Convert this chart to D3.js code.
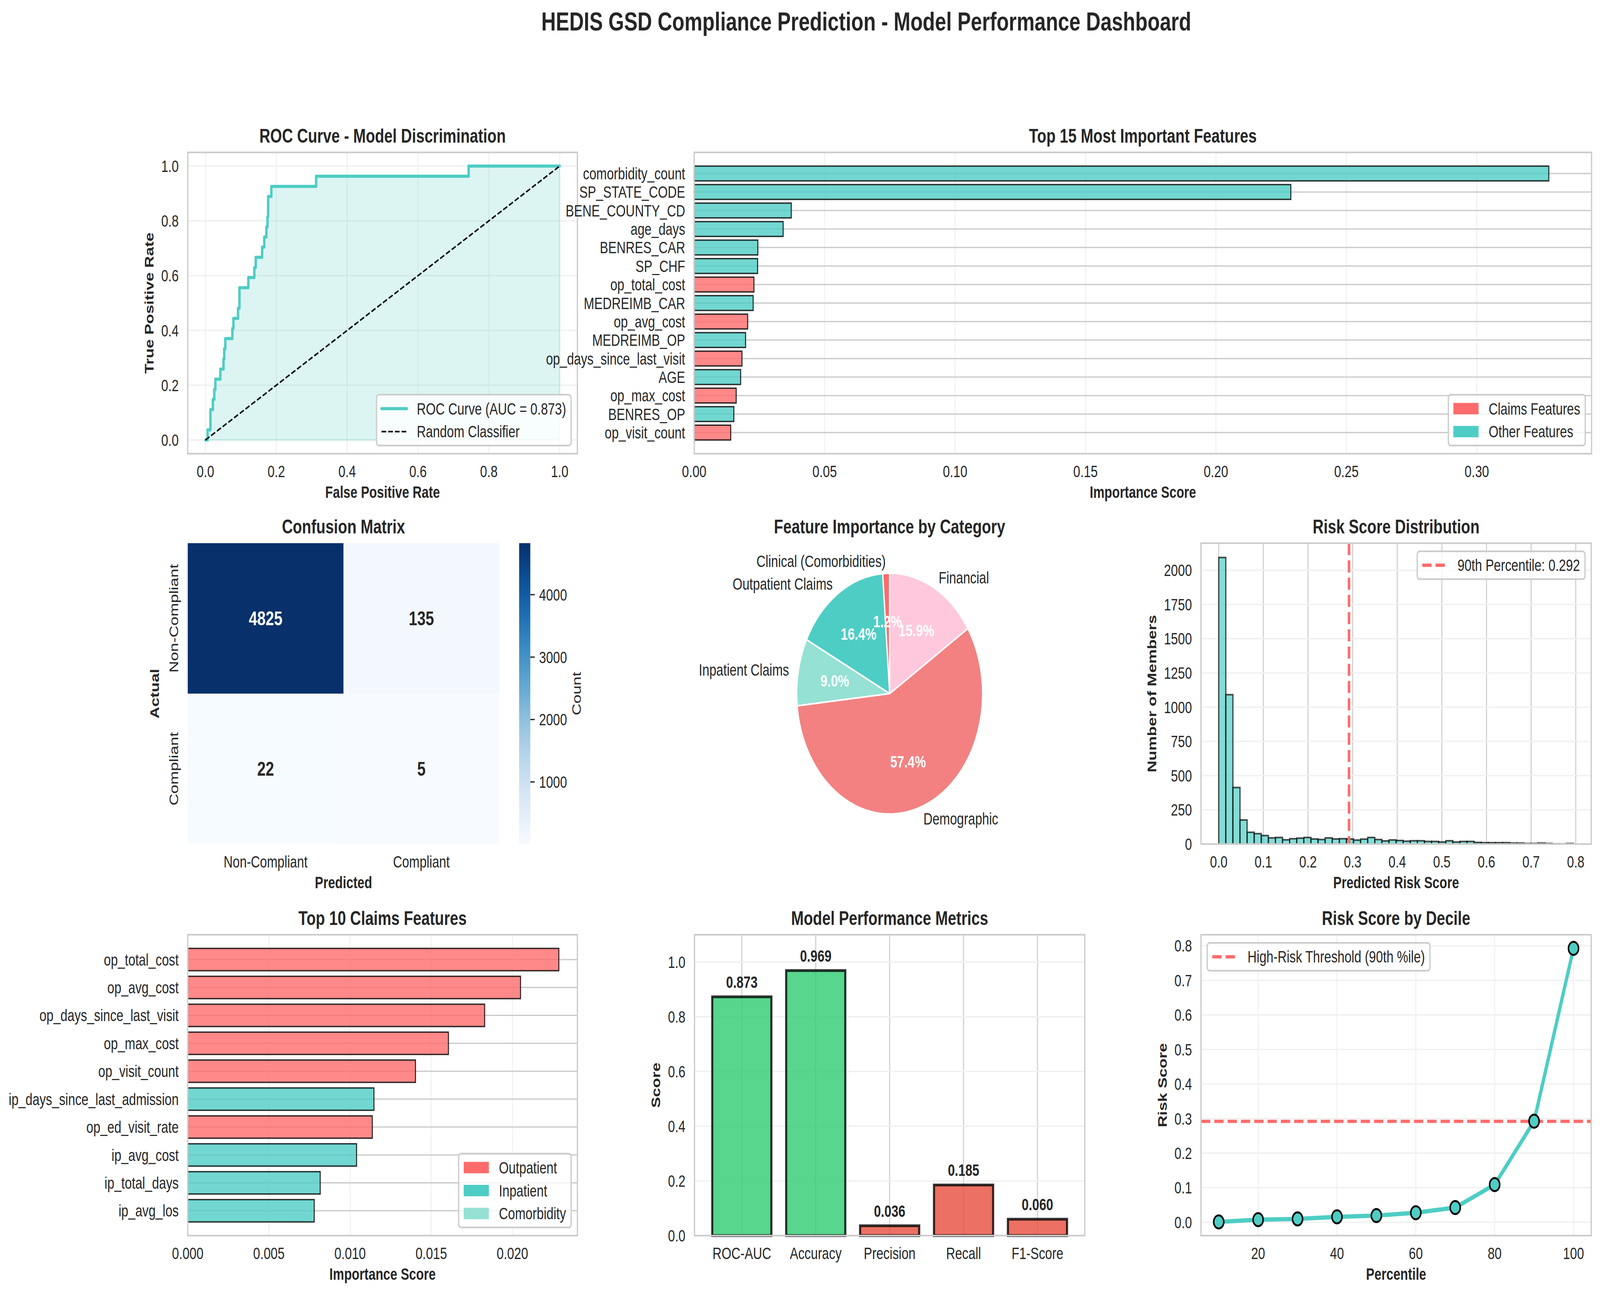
<!DOCTYPE html>
<html>
<head>
<meta charset="utf-8">
<script src="https://cdn.jsdelivr.net/npm/d3@7"></script>
<style>
  html, body { margin: 0; padding: 0; background: #fff; overflow: hidden; width: 100%; height: 100%; }
  #chart { display: block; width: 100vw; height: 100vh; }
  svg text { font-family: "Liberation Sans", Arial, "DejaVu Sans", sans-serif; }
</style>
</head>
<body>
<svg id="chart" viewBox="0 0 5301 3314" preserveAspectRatio="none"></svg>
<script>
// ---------------- DATA ----------------
const mainTitle = "HEDIS GSD Compliance Prediction - Model Performance Dashboard";

// ROC curve corner points
const rocFpr = [0, 0.006, 0.006, 0.014, 0.014, 0.021, 0.021, 0.025, 0.025, 0.028, 0.028, 0.042, 0.042, 0.051, 0.051, 0.053, 0.053, 0.056, 0.056, 0.076, 0.076, 0.079, 0.079, 0.092, 0.092, 0.096, 0.096, 0.121, 0.121, 0.138, 0.138, 0.142, 0.142, 0.160, 0.160, 0.166, 0.166, 0.172, 0.172, 0.175, 0.175, 0.177, 0.177, 0.186, 0.186, 0.3125, 0.3125, 0.743, 0.743, 1.0];
const rocTpr = [0, 0, 0.037, 0.037, 0.111, 0.111, 0.148, 0.148, 0.185, 0.185, 0.222, 0.222, 0.259, 0.259, 0.296, 0.296, 0.333, 0.333, 0.370, 0.370, 0.407, 0.407, 0.444, 0.444, 0.481, 0.481, 0.556, 0.556, 0.593, 0.593, 0.630, 0.630, 0.667, 0.667, 0.704, 0.704, 0.741, 0.741, 0.778, 0.778, 0.815, 0.815, 0.889, 0.889, 0.926, 0.926, 0.963, 0.963, 1.0, 1.0];
const rocAuc = 0.873;

// Top 15 features
const top15Features = ["comorbidity_count", "SP_STATE_CODE", "BENE_COUNTY_CD", "age_days", "BENRES_CAR", "SP_CHF", "op_total_cost", "MEDREIMB_CAR", "op_avg_cost", "MEDREIMB_OP", "op_days_since_last_visit", "AGE", "op_max_cost", "BENRES_OP", "op_visit_count"];
const top15Importance = [0.3276, 0.2287, 0.0372, 0.0341, 0.0244, 0.0243, 0.0229, 0.0226, 0.0205, 0.0197, 0.0183, 0.0178, 0.0161, 0.0152, 0.0140];
const top15Group = ["Other", "Other", "Other", "Other", "Other", "Other", "Claims", "Other", "Claims", "Other", "Claims", "Other", "Claims", "Other", "Claims"];

// Confusion matrix
const cmLabels = ["Non-Compliant", "Compliant"];
const cmValues = [[4825, 135], [22, 5]];
const cmTicks = [1000, 2000, 3000, 4000];

// Pie
const pieCategories = ["Clinical (Comorbidities)", "Outpatient Claims", "Inpatient Claims", "Demographic", "Financial"];
const piePercent = [1.2, 16.4, 9.0, 57.4, 15.9];

// Histogram (50 bins)
const histCounts = [2093, 1091, 413, 176, 86, 76, 62, 45, 48, 31, 39, 43, 48, 37, 33, 45, 37, 39, 37, 29, 36, 48, 33, 23, 30, 26, 21, 24, 24, 19, 19, 15, 24, 15, 19, 19, 12, 10, 10, 10, 10, 7, 7, 4, 4, 7, 4, 1, 1, 4];
const histMin = 0.0;
const histMax = 0.795;
const percentile90 = 0.292;
const histXTicks = [0, 0.1, 0.2, 0.3, 0.4, 0.5, 0.6, 0.7, 0.8];
const histYTicks = [0, 250, 500, 750, 1000, 1250, 1500, 1750, 2000];

// Top 10 claims features
const claimsFeatures = ["op_total_cost", "op_avg_cost", "op_days_since_last_visit", "op_max_cost", "op_visit_count", "ip_days_since_last_admission", "op_ed_visit_rate", "ip_avg_cost", "ip_total_days", "ip_avg_los"];
const claimsImportance = [0.02286, 0.02050, 0.01829, 0.01606, 0.01403, 0.01147, 0.01137, 0.01040, 0.00816, 0.00779];
const claimsType = ["Outpatient", "Outpatient", "Outpatient", "Outpatient", "Outpatient", "Inpatient", "Outpatient", "Inpatient", "Inpatient", "Inpatient"];
const claimsLegend = ["Outpatient", "Inpatient", "Comorbidity"];

// Metrics
const metricNames = ["ROC-AUC", "Accuracy", "Precision", "Recall", "F1-Score"];
const metricValues = [0.873, 0.969, 0.036, 0.185, 0.060];

// Deciles
const decilePercentiles = [10, 20, 30, 40, 50, 60, 70, 80, 90, 100];
const decileScores = [0.001, 0.0075, 0.0097, 0.0157, 0.0194, 0.0276, 0.0425, 0.109, 0.2925, 0.7925];

// ---------------- STYLE ----------------
const FS = 41.7, TFS = 50, TXT = "#262626";
const TEAL = "#4ECDC4", RED = "#FF6B6B", MINT = "#95E1D3", SALMON = "#F38181", PINK = "#FFC8DD";
const GREEN = "#2ECC71", DRED = "#E74C3C";
const GRID_DARK = "#cccccc", GRID_LIGHT = "#f0f0f0";
const pieColors = [RED, TEAL, MINT, SALMON, PINK];
const typeColor = { Outpatient: RED, Inpatient: TEAL, Comorbidity: MINT, Claims: RED, Other: TEAL };

const svg = d3.select("#chart");
svg.append("rect").attr("width", 5301).attr("height", 3314).attr("fill", "#fff");

// ---------------- HELPERS ----------------
function gridX(g, box, x, ticks, color) {
  g.append("g").selectAll("line").data(ticks).enter().append("line")
    .attr("x1", d => x(d)).attr("x2", d => x(d)).attr("y1", box.t).attr("y2", box.b)
    .attr("stroke", color).attr("stroke-width", 3.3);
}
function gridY(g, box, y, ticks, color) {
  g.append("g").selectAll("line").data(ticks).enter().append("line")
    .attr("y1", d => y(d)).attr("y2", d => y(d)).attr("x1", box.l).attr("x2", box.r)
    .attr("stroke", color).attr("stroke-width", 3.3);
}
function spines(g, box) {
  g.append("rect").attr("x", box.l).attr("y", box.t).attr("width", box.r - box.l).attr("height", box.b - box.t)
    .attr("fill", "none").attr("stroke", "#cccccc").attr("stroke-width", 4.2);
}
function xTickLabels(g, box, x, ticks, fmt) {
  g.append("g").selectAll("text").data(ticks).enter().append("text")
    .attr("x", d => x(d)).attr("y", box.b + 60).attr("text-anchor", "middle")
    .attr("font-size", FS).attr("fill", TXT).text(fmt);
}
function yTickLabels(g, box, y, ticks, fmt) {
  const sel = g.append("g").selectAll("text").data(ticks).enter().append("text")
    .attr("x", box.l - 30).attr("y", d => y(d) + 15).attr("text-anchor", "end")
    .attr("font-size", FS).attr("fill", TXT).text(fmt);
  let w = 0;
  sel.each(function () { w = Math.max(w, this.getComputedTextLength()); });
  return w;
}
function title(g, cx, baseY, text) {
  g.append("text").attr("x", cx).attr("y", baseY).attr("text-anchor", "middle")
    .attr("font-size", TFS).attr("font-weight", "bold").attr("fill", TXT).text(text);
}
function xLabel(g, box, text) {
  g.append("text").attr("x", (box.l + box.r) / 2).attr("y", box.b + 113).attr("text-anchor", "middle")
    .attr("font-size", FS).attr("font-weight", "bold").attr("fill", TXT).text(text);
}
function yLabel(g, box, text, baseX) {
  const cy = (box.t + box.b) / 2;
  g.append("text").attr("transform", `translate(${baseX},${cy}) rotate(-90)`).attr("text-anchor", "middle")
    .attr("font-size", FS).attr("font-weight", "bold").attr("fill", TXT).text(text);
}
function legend(g, box, items, corner) {
  const pad = 16.7, hl = 83.4, htp = 33.4, rowH = 38, ls = 20.8, bax = 20.8;
  const tmp = g.append("g");
  const widths = items.map(it => {
    const t = tmp.append("text").attr("font-size", FS).text(it.label);
    return t.node().getComputedTextLength();
  });
  tmp.remove();
  const bw = pad * 2 + hl + htp + d3.max(widths);
  const bh = pad * 2 + items.length * rowH + (items.length - 1) * ls;
  const lx = corner.indexOf("right") >= 0 ? box.r - bax - bw : box.l + bax;
  const ty = corner.indexOf("lower") >= 0 ? box.b - bax - bh : box.t + bax;
  const lg = g.append("g");
  lg.append("rect").attr("x", lx).attr("y", ty).attr("width", bw).attr("height", bh).attr("rx", 8.3)
    .attr("fill", "#fff").attr("fill-opacity", 0.8).attr("stroke", "#cccccc").attr("stroke-width", 4.2);
  items.forEach((it, i) => {
    const cy = ty + pad + rowH / 2 + i * (rowH + ls);
    const hx = lx + pad;
    if (it.type === "line") {
      lg.append("line").attr("x1", hx).attr("x2", hx + hl).attr("y1", cy).attr("y2", cy)
        .attr("stroke", it.color).attr("stroke-width", it.width)
        .attr("stroke-dasharray", it.dash || null).attr("stroke-linecap", it.dash ? "butt" : "round");
    } else {
      lg.append("rect").attr("x", hx).attr("y", cy - 0.35 * FS).attr("width", hl).attr("height", 0.7 * FS)
        .attr("fill", it.color);
    }
    lg.append("text").attr("x", hx + hl + htp).attr("y", cy + 15).attr("font-size", FS).attr("fill", TXT).text(it.label);
  });
}
function linTicks(a, b, step) { const out = []; for (let v = a; v <= b + 1e-9; v += step) out.push(+v.toFixed(6)); return out; }

// ---------------- MAIN TITLE ----------------
svg.append("text").attr("x", 2870).attr("y", 78).attr("text-anchor", "middle")
  .attr("font-size", 66.7).attr("font-weight", "bold").attr("fill", TXT).text(mainTitle);

// ---------------- ROC ----------------
(function () {
  const box = { l: 622, r: 1913, t: 390, b: 1161 };
  const g = svg.append("g");
  const x = d3.scaleLinear().domain([-0.05, 1.05]).range([box.l, box.r]);
  const y = d3.scaleLinear().domain([-0.05, 1.05]).range([box.b, box.t]);
  const ticks = linTicks(0, 1, 0.2);
  gridX(g, box, x, ticks, GRID_LIGHT);
  gridY(g, box, y, ticks, GRID_LIGHT);
  const pts = rocFpr.map((f, i) => [f, rocTpr[i]]);
  const area = d3.area().x(d => x(d[0])).y0(y(0)).y1(d => y(d[1]));
  g.append("path").attr("d", area(pts)).attr("fill", TEAL).attr("fill-opacity", 0.2)
    .attr("stroke", TEAL).attr("stroke-opacity", 0.2).attr("stroke-width", 4);
  const line = d3.line().x(d => x(d[0])).y(d => y(d[1]));
  g.append("path").attr("d", line(pts)).attr("fill", "none").attr("stroke", TEAL).attr("stroke-width", 8)
    .attr("stroke-linejoin", "round").attr("stroke-linecap", "round");
  g.append("path").attr("d", line([[0, 0], [1, 1]])).attr("fill", "none").attr("stroke", "#000")
    .attr("stroke-width", 4.2).attr("stroke-dasharray", "15.4,6.7");
  spines(g, box);
  xTickLabels(g, box, x, ticks, d => d.toFixed(1));
  const w = yTickLabels(g, box, y, ticks, d => d.toFixed(1));
  title(g, (box.l + box.r) / 2, box.t - 25, "ROC Curve - Model Discrimination");
  xLabel(g, box, "False Positive Rate");
  yLabel(g, box, "True Positive Rate", box.l - 30 - w - 25.5);
  legend(g, box, [
    { type: "line", color: TEAL, width: 8, label: `ROC Curve (AUC = ${rocAuc.toFixed(3)})` },
    { type: "line", color: "#000", width: 4.2, dash: "15.4,6.7", label: "Random Classifier" }
  ], "lower right");
})();

// ---------------- TOP 15 ----------------
(function () {
  const box = { l: 2300, r: 5273, t: 390, b: 1161 };
  const g = svg.append("g");
  const n = top15Features.length;
  const x = d3.scaleLinear().domain([0, d3.max(top15Importance) * 1.05]).range([box.l, box.r]);
  const marg = (n - 0.2) * 0.05;
  const y = d3.scaleLinear().domain([-0.4 - marg, n - 0.6 + marg]).range([box.t, box.b]);
  const xt = linTicks(0, 0.30, 0.05);
  gridX(g, box, x, xt, GRID_LIGHT);
  gridY(g, box, y, d3.range(n), GRID_DARK);
  const bh = y(0.8) - y(0);
  g.append("g").selectAll("rect").data(top15Importance).enter().append("rect")
    .attr("x", x(0)).attr("y", (d, i) => y(i) - bh / 2).attr("width", d => x(d) - x(0)).attr("height", bh)
    .attr("fill", (d, i) => typeColor[top15Group[i]]).attr("fill-opacity", 0.8)
    .attr("stroke", "#000").attr("stroke-opacity", 0.8).attr("stroke-width", 3.5);
  spines(g, box);
  xTickLabels(g, box, x, xt, d => d.toFixed(2));
  g.append("g").selectAll("text").data(top15Features).enter().append("text")
    .attr("x", box.l - 30).attr("y", (d, i) => y(i) + 15).attr("text-anchor", "end")
    .attr("font-size", FS).attr("fill", TXT).text(d => d);
  title(g, (box.l + box.r) / 2, box.t - 25, "Top 15 Most Important Features");
  xLabel(g, box, "Importance Score");
  legend(g, box, [
    { type: "patch", color: RED, label: "Claims Features" },
    { type: "patch", color: TEAL, label: "Other Features" }
  ], "lower right");
})();

// ---------------- CONFUSION MATRIX ----------------
(function () {
  const box = { l: 622, r: 1654, t: 1390, b: 2160 };
  const g = svg.append("g");
  const flat = cmValues.flat();
  const vmin = d3.min(flat), vmax = d3.max(flat);
  const color = d3.scaleSequential(d3.interpolateBlues).domain([vmin, vmax]);
  const xb = d3.scaleBand().domain([0, 1]).range([box.l, box.r]);
  const yb = d3.scaleBand().domain([0, 1]).range([box.t, box.b]);
  cmValues.forEach((row, r) => row.forEach((v, c) => {
    g.append("rect").attr("x", xb(c)).attr("y", yb(r)).attr("width", xb.bandwidth() + 0.5).attr("height", yb.bandwidth() + 0.5)
      .attr("fill", color(v));
    const t = (v - vmin) / (vmax - vmin);
    g.append("text").attr("x", xb(c) + xb.bandwidth() / 2).attr("y", yb(r) + yb.bandwidth() / 2 + 18)
      .attr("text-anchor", "middle").attr("font-size", TFS).attr("font-weight", "bold")
      .attr("fill", t > 0.5 ? "#ffffff" : TXT).text(v);
  }));
  cmLabels.forEach((lab, i) => {
    g.append("text").attr("x", xb(i) + xb.bandwidth() / 2).attr("y", box.b + 60).attr("text-anchor", "middle")
      .attr("font-size", FS).attr("fill", TXT).text(lab);
    g.append("text").attr("transform", `translate(${box.l - 32},${yb(i) + yb.bandwidth() / 2}) rotate(-90)`)
      .attr("text-anchor", "middle").attr("font-size", FS).attr("fill", TXT).text(lab);
  });
  title(g, (box.l + box.r) / 2, box.t - 25, "Confusion Matrix");
  xLabel(g, box, "Predicted");
  yLabel(g, box, "Actual", 527);
  // colorbar
  const cb = { l: 1720, r: 1757, t: 1390, b: 2160 };
  const defs = svg.append("defs");
  const grad = defs.append("linearGradient").attr("id", "cmgrad").attr("x1", 0).attr("y1", 1).attr("x2", 0).attr("y2", 0);
  d3.range(0, 1.0001, 0.05).forEach(s => grad.append("stop").attr("offset", s).attr("stop-color", d3.interpolateBlues(s)));
  g.append("rect").attr("x", cb.l).attr("y", cb.t).attr("width", cb.r - cb.l).attr("height", cb.b - cb.t).attr("fill", "url(#cmgrad)");
  const cy = d3.scaleLinear().domain([vmin, vmax]).range([cb.b, cb.t]);
  cmTicks.forEach(v => {
    g.append("line").attr("x1", cb.r).attr("x2", cb.r + 14.6).attr("y1", cy(v)).attr("y2", cy(v))
      .attr("stroke", TXT).attr("stroke-width", 3.3);
    g.append("text").attr("x", cb.r + 29).attr("y", cy(v) + 15).attr("font-size", FS).attr("fill", TXT).text(v);
  });
  g.append("text").attr("transform", `translate(1925,${(cb.t + cb.b) / 2}) rotate(-90)`).attr("text-anchor", "middle")
    .attr("font-size", FS).attr("fill", TXT).text("Count");
})();

// ---------------- PIE ----------------
(function () {
  const cx = 2947.5, cy = 1775, r = 308;
  const g = svg.append("g");
  const pie = d3.pie().sort(null).startAngle(0).endAngle(-2 * Math.PI).value(d => d);
  const arcs = pie(piePercent);
  const arc = d3.arc().innerRadius(0).outerRadius(r);
  const pg = g.append("g").attr("transform", `translate(${cx},${cy})`);
  pg.selectAll("path").data(arcs).enter().append("path").attr("d", arc)
    .attr("fill", (d, i) => pieColors[i]).attr("stroke", "#fff").attr("stroke-width", 4.2).attr("stroke-linejoin", "round");
  arcs.forEach((a, i) => {
    const m = (a.startAngle + a.endAngle) / 2;
    const lx = Math.sin(m) * r * 1.1, ly = -Math.cos(m) * r * 1.1;
    pg.append("text").attr("x", lx).attr("y", ly + 15).attr("text-anchor", lx > 0 ? "start" : "end")
      .attr("font-size", FS).attr("fill", TXT).text(pieCategories[i]);
  });
  arcs.forEach((a, i) => {
    const m = (a.startAngle + a.endAngle) / 2;
    const px = Math.sin(m) * r * 0.6, py = -Math.cos(m) * r * 0.6;
    pg.append("text").attr("x", px).attr("y", py + 15).attr("text-anchor", "middle")
      .attr("font-size", FS).attr("font-weight", "bold").attr("fill", "#fff").text(piePercent[i].toFixed(1) + "%");
  });
  title(g, cx, 1365, "Feature Importance by Category");
})();

// ---------------- HISTOGRAM ----------------
(function () {
  const box = { l: 3979, r: 5272, t: 1390, b: 2160 };
  const g = svg.append("g");
  const nb = histCounts.length, bw = (histMax - histMin) / nb, rng = histMax - histMin;
  const x = d3.scaleLinear().domain([histMin - 0.05 * rng, histMax + 0.05 * rng]).range([box.l, box.r]);
  const y = d3.scaleLinear().domain([0, d3.max(histCounts) * 1.05]).range([box.b, box.t]);
  gridX(g, box, x, histXTicks, GRID_DARK);
  gridY(g, box, y, histYTicks, GRID_LIGHT);
  g.append("g").selectAll("rect").data(histCounts).enter().append("rect")
    .attr("x", (d, i) => x(histMin + i * bw)).attr("width", x(histMin + bw) - x(histMin))
    .attr("y", d => y(d)).attr("height", d => y(0) - y(d))
    .attr("fill", TEAL).attr("fill-opacity", 0.7).attr("stroke", "#000").attr("stroke-opacity", 0.7).attr("stroke-width", 4);
  g.append("line").attr("x1", x(percentile90)).attr("x2", x(percentile90)).attr("y1", box.t).attr("y2", box.b)
    .attr("stroke", RED).attr("stroke-width", 8.3).attr("stroke-dasharray", "30.8,13.3");
  spines(g, box);
  xTickLabels(g, box, x, histXTicks, d => d.toFixed(1));
  const w = yTickLabels(g, box, y, histYTicks, d => d);
  title(g, (box.l + box.r) / 2, box.t - 25, "Risk Score Distribution");
  xLabel(g, box, "Predicted Risk Score");
  yLabel(g, box, "Number of Members", box.l - 30 - w - 25.5);
  legend(g, box, [
    { type: "line", color: RED, width: 8.3, dash: "30.8,13.3", label: `90th Percentile: ${percentile90.toFixed(3)}` }
  ], "upper right");
})();

// ---------------- TOP 10 CLAIMS ----------------
(function () {
  const box = { l: 622, r: 1913, t: 2392, b: 3162 };
  const g = svg.append("g");
  const n = claimsFeatures.length;
  const x = d3.scaleLinear().domain([0, d3.max(claimsImportance) * 1.05]).range([box.l, box.r]);
  const marg = (n - 0.2) * 0.05;
  const y = d3.scaleLinear().domain([-0.4 - marg, n - 0.6 + marg]).range([box.t, box.b]);
  const xt = linTicks(0, 0.020, 0.005);
  gridX(g, box, x, xt, GRID_LIGHT);
  gridY(g, box, y, d3.range(n), GRID_DARK);
  const bh = y(0.8) - y(0);
  g.append("g").selectAll("rect").data(claimsImportance).enter().append("rect")
    .attr("x", x(0)).attr("y", (d, i) => y(i) - bh / 2).attr("width", d => x(d) - x(0)).attr("height", bh)
    .attr("fill", (d, i) => typeColor[claimsType[i]]).attr("fill-opacity", 0.8)
    .attr("stroke", "#000").attr("stroke-opacity", 0.8).attr("stroke-width", 3.5);
  spines(g, box);
  xTickLabels(g, box, x, xt, d => d.toFixed(3));
  g.append("g").selectAll("text").data(claimsFeatures).enter().append("text")
    .attr("x", box.l - 30).attr("y", (d, i) => y(i) + 15).attr("text-anchor", "end")
    .attr("font-size", FS).attr("fill", TXT).text(d => d);
  title(g, (box.l + box.r) / 2, box.t - 25, "Top 10 Claims Features");
  xLabel(g, box, "Importance Score");
  legend(g, box, claimsLegend.map(c => ({ type: "patch", color: typeColor[c], label: c })), "lower right");
})();

// ---------------- METRICS ----------------
(function () {
  const box = { l: 2301, r: 3594, t: 2392, b: 3162 };
  const g = svg.append("g");
  const n = metricNames.length;
  const x = d3.scaleLinear().domain([-0.4 - (n - 0.2) * 0.05, n - 0.6 + (n - 0.2) * 0.05]).range([box.l, box.r]);
  const y = d3.scaleLinear().domain([0, 1.1]).range([box.b, box.t]);
  const yt = linTicks(0, 1, 0.2);
  gridX(g, box, x, d3.range(n), GRID_DARK);
  gridY(g, box, y, yt, GRID_LIGHT);
  const bw = x(0.8) - x(0);
  g.append("g").selectAll("rect").data(metricValues).enter().append("rect")
    .attr("x", (d, i) => x(i) - bw / 2).attr("width", bw).attr("y", d => y(d)).attr("height", d => y(0) - y(d))
    .attr("fill", d => d >= 0.5 ? GREEN : DRED).attr("fill-opacity", 0.8)
    .attr("stroke", "#000").attr("stroke-opacity", 0.8).attr("stroke-width", 7);
  g.append("g").selectAll("text").data(metricValues).enter().append("text")
    .attr("x", (d, i) => x(i)).attr("y", d => y(d + 0.02) - 9).attr("text-anchor", "middle")
    .attr("font-size", FS).attr("font-weight", "bold").attr("fill", TXT).text(d => d.toFixed(3));
  spines(g, box);
  g.append("g").selectAll("text.xt").data(metricNames).enter().append("text")
    .attr("x", (d, i) => x(i)).attr("y", box.b + 60).attr("text-anchor", "middle")
    .attr("font-size", FS).attr("fill", TXT).text(d => d);
  const w = yTickLabels(g, box, y, yt, d => d.toFixed(1));
  title(g, (box.l + box.r) / 2, box.t - 25, "Model Performance Metrics");
  yLabel(g, box, "Score", box.l - 30 - w - 25.5);
})();

// ---------------- DECILES ----------------
(function () {
  const box = { l: 3979, r: 5272, t: 2392, b: 3162 };
  const g = svg.append("g");
  const xr = d3.extent(decilePercentiles), yr = d3.extent(decileScores);
  const x = d3.scaleLinear().domain([xr[0] - 0.05 * (xr[1] - xr[0]), xr[1] + 0.05 * (xr[1] - xr[0])]).range([box.l, box.r]);
  const y = d3.scaleLinear().domain([yr[0] - 0.05 * (yr[1] - yr[0]), yr[1] + 0.05 * (yr[1] - yr[0])]).range([box.b, box.t]);
  const xt = [20, 40, 60, 80, 100];
  const yt = linTicks(0, 0.8, 0.1);
  gridX(g, box, x, xt, GRID_LIGHT);
  gridY(g, box, y, yt, GRID_LIGHT);
  g.append("line").attr("x1", box.l).attr("x2", box.r).attr("y1", y(percentile90)).attr("y2", y(percentile90))
    .attr("stroke", RED).attr("stroke-width", 8.3).attr("stroke-dasharray", "30.8,13.3");
  const pts = decilePercentiles.map((p, i) => [p, decileScores[i]]);
  g.append("path").attr("d", d3.line().x(d => x(d[0])).y(d => y(d[1]))(pts)).attr("fill", "none")
    .attr("stroke", TEAL).attr("stroke-width", 11).attr("stroke-linejoin", "round").attr("stroke-linecap", "round");
  g.append("g").selectAll("circle").data(pts).enter().append("circle")
    .attr("cx", d => x(d[0])).attr("cy", d => y(d[1])).attr("r", 16.7)
    .attr("fill", TEAL).attr("stroke", "#000").attr("stroke-width", 5);
  spines(g, box);
  xTickLabels(g, box, x, xt, d => d);
  const w = yTickLabels(g, box, y, yt, d => d.toFixed(1));
  title(g, (box.l + box.r) / 2, box.t - 25, "Risk Score by Decile");
  xLabel(g, box, "Percentile");
  yLabel(g, box, "Risk Score", box.l - 30 - w - 25.5);
  legend(g, box, [
    { type: "line", color: RED, width: 8.3, dash: "30.8,13.3", label: "High-Risk Threshold (90th %ile)" }
  ], "upper left");
})();
</script>
</body>
</html>
